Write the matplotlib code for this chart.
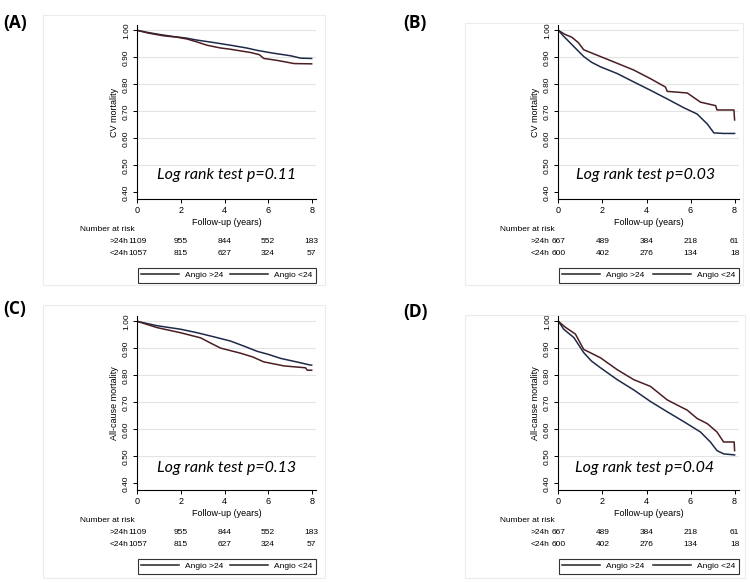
import matplotlib
matplotlib.use("Agg")
import matplotlib.pyplot as plt
from matplotlib.patches import Rectangle

# ---- data ----
# panel A: CV mortality, whole cohort
a_t_gt = [0, 0.5, 1.0, 1.67, 2.2, 2.74, 3.5, 4.28, 5.0, 5.5, 6.2, 7.03, 7.5, 8.0]
a_s_gt = [1.0, 0.992, 0.985, 0.977, 0.972, 0.964, 0.955, 0.945, 0.935, 0.926, 0.916, 0.906, 0.897, 0.896]
a_t_lt = [0, 0.5, 1.2, 1.8, 2.28, 2.7, 3.2, 3.8, 4.28, 5.2, 5.6, 5.8, 6.4, 7.2, 8.0]
a_s_lt = [1.0, 0.99, 0.98, 0.975, 0.968, 0.958, 0.945, 0.935, 0.93, 0.918, 0.91, 0.896, 0.889, 0.877, 0.876]

# panel B: CV mortality, subgroup
b_t_gt = [0, 0.24, 0.7, 1.15, 1.5, 1.91, 2.67, 3.42, 4.18, 4.94, 5.7, 6.3, 6.76, 7.06, 7.5, 8.0]
b_s_gt = [1.0, 0.978, 0.94, 0.903, 0.882, 0.865, 0.84, 0.809, 0.778, 0.746, 0.713, 0.69, 0.653, 0.62, 0.618, 0.618]
b_t_lt = [0, 0.3, 0.6, 0.9, 1.15, 1.91, 2.67, 3.42, 4.18, 4.86, 4.94, 5.85, 6.45, 7.14, 7.2, 7.97, 8.0]
b_s_lt = [1.0, 0.985, 0.975, 0.955, 0.928, 0.903, 0.878, 0.853, 0.821, 0.79, 0.774, 0.768, 0.734, 0.721, 0.705, 0.705, 0.668]

# panel C: all-cause mortality, whole cohort
c_t_gt = [0, 0.9, 1.98, 2.74, 3.5, 4.28, 5.0, 5.5, 6.0, 6.57, 7.3, 7.95, 8.0]
c_s_gt = [1.0, 0.984, 0.971, 0.958, 0.943, 0.927, 0.905, 0.889, 0.878, 0.863, 0.85, 0.838, 0.838]
c_t_lt = [0, 0.9, 1.98, 2.9, 3.4, 3.82, 4.74, 5.3, 5.8, 6.73, 7.72, 7.8, 8.0]
c_s_lt = [1.0, 0.977, 0.958, 0.939, 0.918, 0.901, 0.882, 0.868, 0.85, 0.835, 0.828, 0.819, 0.819]

# panel D: all-cause mortality, subgroup
d_t_gt = [0, 0.24, 0.7, 1.15, 1.5, 1.91, 2.67, 3.42, 4.18, 4.94, 5.7, 6.45, 6.9, 7.2, 7.5, 8.0]
d_s_gt = [1.0, 0.971, 0.94, 0.884, 0.853, 0.828, 0.784, 0.746, 0.703, 0.665, 0.628, 0.59, 0.553, 0.521, 0.509, 0.505]
d_t_lt = [0, 0.32, 0.77, 1.15, 1.91, 2.67, 3.42, 4.18, 4.94, 5.39, 5.85, 6.3, 6.76, 7.2, 7.5, 7.98, 8.0]
d_s_lt = [1.0, 0.978, 0.953, 0.896, 0.865, 0.821, 0.784, 0.759, 0.709, 0.69, 0.671, 0.64, 0.621, 0.59, 0.553, 0.553, 0.521]

risk_times = [0, 2, 4, 6, 8]
risk_all_gt = [1109, 955, 844, 552, 183]
risk_all_lt = [1057, 815, 627, 324, 57]
risk_sub_gt = [667, 489, 384, 218, 61]
risk_sub_lt = [600, 402, 276, 134, 18]

yticks = [0.40, 0.50, 0.60, 0.70, 0.80, 0.90, 1.00]
xticks = [0, 2, 4, 6, 8]

COL_GT = '#1e2a48'
COL_LT = '#4a1e22'
NUMFONT = ['Liberation Sans Narrow', 'Liberation Sans', 'DejaVu Sans']

W, H = 750, 583
fig = plt.figure(figsize=(7.5, 5.83), dpi=100)


def px_rect(x0, y0, x1, y1):
    # pixel box -> figure fraction [left, bottom, width, height]
    return [x0 / W, 1 - y1 / H, (x1 - x0) / W, (y1 - y0) / H]


def panel(rect, letter, letter_xy, frame, ylabel, p_text, p_pos,
          t_gt, s_gt, t_lt, s_lt, n_gt, n_lt, labx):
    # faint frame around the panel
    fx0, fy0, fx1, fy1 = frame
    fig.patches.append(Rectangle((fx0 / W, 1 - fy1 / H), (fx1 - fx0) / W, (fy1 - fy0) / H,
                                 transform=fig.transFigure, fill=False,
                                 edgecolor='#ececec', linewidth=0.8))
    fig.text(letter_xy[0] / W, 1 - letter_xy[1] / H, letter, fontsize=12.5, fontweight='bold',
             family=['Open Sans', 'DejaVu Sans'], ha='left', va='center')

    ax = fig.add_axes(rect)
    ax.set_xlim(-0.02, 8.2)
    ax.set_ylim(0.375, 1.02)
    for y in yticks[1:]:
        ax.axhline(y, color='#e4e4e4', linewidth=0.8, zorder=0)
    l1, = ax.plot(t_gt, s_gt, color=COL_GT, linewidth=1.1)
    l2, = ax.plot(t_lt, s_lt, color=COL_LT, linewidth=1.1)

    ax.spines['top'].set_visible(False)
    ax.spines['right'].set_visible(False)
    ax.spines['left'].set_linewidth(0.8)
    ax.spines['bottom'].set_linewidth(0.8)
    ax.set_yticks(yticks)
    ax.set_yticklabels(['%.2f' % v for v in yticks], rotation=90, va='center',
                       fontsize=6, family=NUMFONT)
    ax.set_xticks(xticks)
    ax.set_xticklabels([str(v) for v in xticks], fontsize=6.5, family=NUMFONT)
    ax.tick_params(length=3, width=0.7, pad=2)
    ax.set_ylabel(ylabel, fontsize=6.5, family=NUMFONT, labelpad=3)
    ax.set_xlabel('Follow-up (years)', fontsize=6.5, family=NUMFONT, labelpad=2)

    ax.text(p_pos[0], p_pos[1], p_text, transform=ax.transAxes, ha='center', va='center',
            fontsize=11.5, style='italic', family=['Lato', 'Open Sans', 'DejaVu Sans'])

    # number at risk table
    tr = ax.get_xaxis_transform()
    ax.text(-0.32, -0.178, 'Number at risk', transform=ax.transAxes,
            ha='left', va='center', fontsize=6, family=NUMFONT)
    for yrow, lab, vals in [(-0.247, '>24h', n_gt), (-0.316, '<24h', n_lt)]:
        for t, v in zip(risk_times, vals):
            ax.text(t, yrow, str(v), transform=tr, ha='center', va='center',
                    fontsize=6, family=NUMFONT, clip_on=False)
        ax.text(labx, yrow, lab, transform=tr, ha='right', va='center',
                fontsize=6, family=NUMFONT, clip_on=False)

    leg = ax.legend([l1, l2], ['Angio >24', 'Angio <24'], loc='lower left',
                    bbox_to_anchor=(0.005, -0.48, 0.995, 0.12), mode='expand', ncol=2,
                    frameon=True, fancybox=False, edgecolor='black',
                    handlelength=4.5, borderaxespad=0, prop={'family': NUMFONT, 'size': 6})
    leg.get_frame().set_linewidth(0.8)
    for h in leg.get_lines():
        h.set_color('#222222')
    return ax


panel(px_rect(137, 25, 316, 199), '(A)', (3, 23), (43, 15, 325, 285), 'CV mortality',
      'Log rank test p=0.11', (0.503, 0.138),
      a_t_gt, a_s_gt, a_t_lt, a_s_lt, risk_all_gt, risk_all_lt, -0.42)
panel(px_rect(558, 25, 739, 199), '(B)', (403, 23), (465, 23, 743, 285), 'CV mortality',
      'Log rank test p=0.03', (0.483, 0.138),
      b_t_gt, b_s_gt, b_t_lt, b_s_lt, risk_sub_gt, risk_sub_lt, -0.42)
panel(px_rect(137, 316, 316, 490), '(C)', (3, 309), (43, 305, 325, 578), 'All-cause mortality',
      'Log rank test p=0.13', (0.50, 0.125),
      c_t_gt, c_s_gt, c_t_lt, c_s_lt, risk_all_gt, risk_all_lt, -0.42)
panel(px_rect(558, 316, 739, 490), '(D)', (403, 312), (465, 315, 745, 578), 'All-cause mortality',
      'Log rank test p=0.04', (0.48, 0.126),
      d_t_gt, d_s_gt, d_t_lt, d_s_lt, risk_sub_gt, risk_sub_lt, -0.42)

fig.savefig('out.png', dpi=100)
